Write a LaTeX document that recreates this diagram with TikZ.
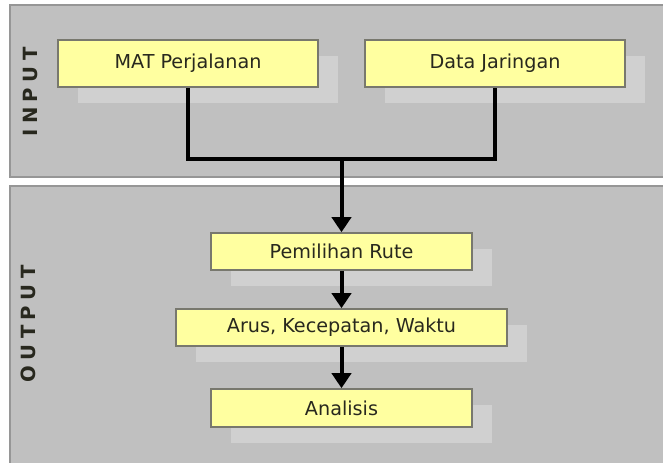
\documentclass[tikz,border=0pt]{standalone}
\usepackage{fontspec}
\setmainfont{DejaVu Sans}
\usepackage{xcolor}
\usepackage{tikz}
\usetikzlibrary{arrows.meta,positioning,shadows}
\definecolor{trpanel}{RGB}{192,192,192}
\definecolor{trrim}{RGB}{150,150,150}
\definecolor{trshade}{RGB}{208,208,208}
\definecolor{tryellow}{RGB}{255,255,160}
\definecolor{trborder}{RGB}{120,120,110}
\definecolor{trtext}{RGB}{40,40,30}
\tikzset{
  trbox/.style={
    draw=trborder,
    fill=tryellow,
    line width=0.8pt,
    align=center,
    inner sep=0pt,
    text=trtext,
    font=\fontsize{9.6}{11}\selectfont,
    general shadow={fill=trshade, shadow xshift=10pt, shadow yshift=-8pt}
  },
  trpanelbox/.style={fill=trpanel, draw=trrim, line width=1pt},
  trlabel/.style={rotate=90, text=trtext, font=\fontsize{9.8}{11}\selectfont\bfseries\addfontfeature{LetterSpace=28}},
  trline/.style={line width=2pt, draw=black},
  trarrow/.style={trline, -{Triangle[length=7.5pt,width=9.5pt]}}
}
\begin{document}
\begin{tikzpicture}[x=0.5pt,y=-0.5pt]
\useasboundingbox (0,0) rectangle (663,462);
\clip (0,0) rectangle (663,462);
\fill[white] (0,0) rectangle (663,462);
% panels
\draw[trpanelbox] (10,5) rectangle (672,177);
\draw[trpanelbox] (10,186) rectangle (672,472);
\node[trlabel] (inlbl) at (30,92) {INPUT};
\node[trlabel] (outlbl) at (28,324) {OUTPUT};
% input boxes
\node[trbox, minimum width=130pt, minimum height=23.5pt] (mat) at (188,63.5) {MAT Perjalanan};
\node[trbox, minimum width=130pt, minimum height=23.5pt] (net) at (495,63.5) {Data Jaringan};
% output boxes
\node[trbox, minimum width=130.5pt, minimum height=18.5pt] (route) at (341.5,251.5) {Pemilihan Rute};
\node[trbox, minimum width=165.5pt, minimum height=18.5pt] (flow) at (341.5,327.5) {Arus, Kecepatan, Waktu};
\node[trbox, minimum width=130.5pt, minimum height=19pt] (anal) at (341.5,408) {Analisis};
% connectors
\coordinate (jn) at (341.5,159);
\draw[trline] (mat.south) |- (jn) -| (net.south);
\draw[trarrow] (jn) -- (route.north);
\draw[trarrow] (route) -- (flow);
\draw[trarrow] (flow) -- (anal);
\end{tikzpicture}
\end{document}
